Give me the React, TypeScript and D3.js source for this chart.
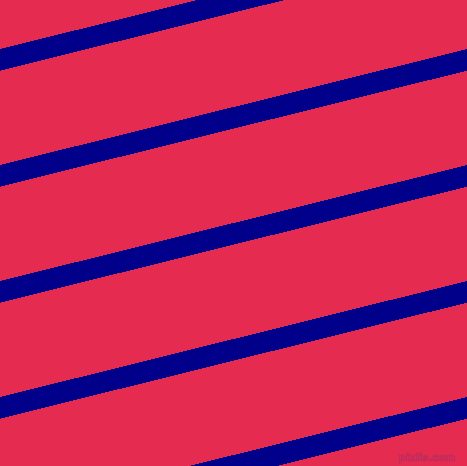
import React, { useEffect, useRef } from 'react';
import * as d3 from 'd3';

// stripe index -> row of the pattern (one per diagonal band)
const stripeIndex = [-1, 0, 1, 2, 3, 4, 5];
const backgroundColor = '#e52b50';
const stripeColor = '#00008b';
const watermark = 'pixlis.com';

export default function App() {
    const svgRef = useRef<SVGSVGElement>(null);

    useEffect(() => {
        if (!svgRef.current) return;
        const width = 467;
        const height = 466;
        const period = 116;
        const thickness = 21.7;
        const slope = period / width; // tileable: shifts one period across the width

        const svg = d3.select(svgRef.current);
        svg.selectAll('*').remove();
        svg.attr('width', width).attr('height', height).attr('viewBox', `0 0 ${width} ${height}`);

        svg.append('rect')
            .attr('width', width)
            .attr('height', height)
            .attr('fill', backgroundColor);

        // intercept of each stripe's upper edge at x = 0
        const yScale = d3.scaleLinear().domain([0, 1]).range([49, 49 + period]);
        const xScale = d3.scaleLinear().domain([0, 1]).range([0, width]);

        const line = d3.line<[number, number]>().curve(d3.curveLinearClosed);

        svg.append('g')
            .selectAll('path')
            .data(stripeIndex)
            .join('path')
            .attr('d', d => {
                const b = yScale(d);
                const x0 = xScale(0);
                const x1 = xScale(1);
                return line([
                    [x0, b],
                    [x1, b - slope * x1],
                    [x1, b - slope * x1 + thickness],
                    [x0, b + thickness],
                ]);
            })
            .attr('fill', stripeColor)
            .attr('shape-rendering', 'crispEdges');

        svg.append('text')
            .attr('x', 455)
            .attr('y', 461)
            .attr('text-anchor', 'end')
            .style('font-family', 'DejaVu Sans, sans-serif')
            .style('font-size', '10px')
            .style('font-weight', 'bold')
            .attr('fill', 'none')
            .attr('stroke', '#a0306a')
            .attr('stroke-width', 0.6)
            .attr('opacity', 0.8)
            .text(watermark);
    }, []);

    return (
        <svg
            ref={svgRef}
            style={{ position: 'absolute', left: 0, top: 0, display: 'block' }}
        />
    );
}
